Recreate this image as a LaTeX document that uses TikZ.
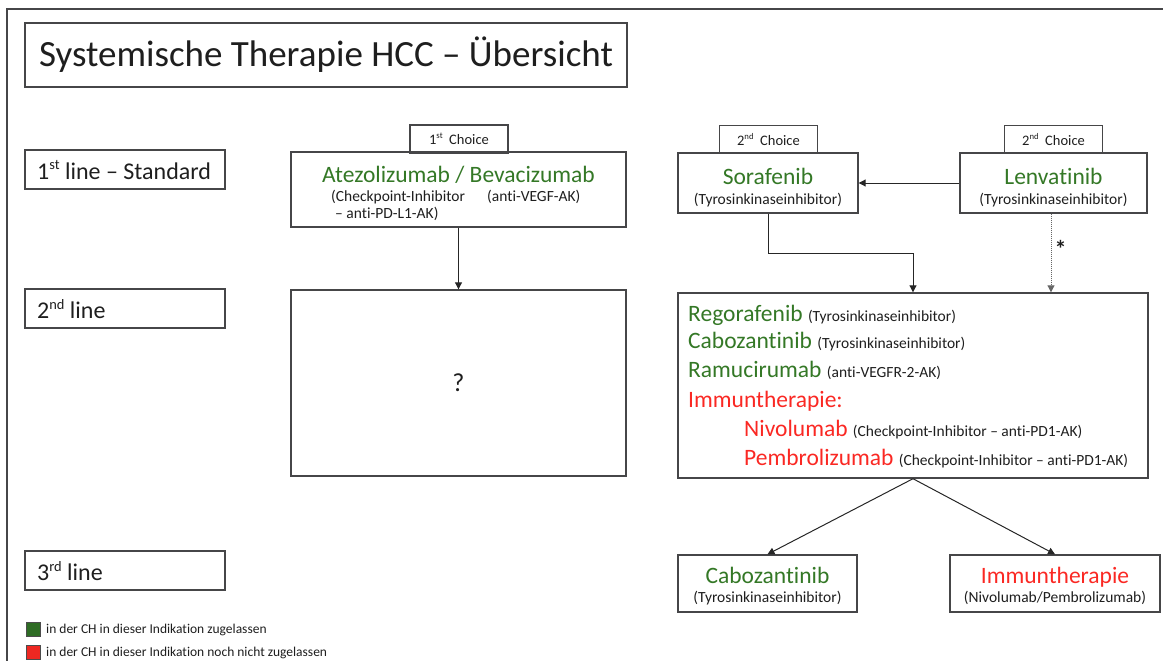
\documentclass[tikz,border=0pt]{standalone}
\usepackage{fontspec}
\setmainfont{Carlito}[Ligatures=NoCommon]
\usetikzlibrary{arrows.meta,calc}
\definecolor{dgreen}{RGB}{52,120,38}
\definecolor{dred}{RGB}{250,40,35}
\definecolor{boxline}{RGB}{70,70,72}
\definecolor{textgray}{RGB}{30,30,30}
\definecolor{lgreen}{RGB}{46,108,36}
\definecolor{lred}{RGB}{238,40,34}
\newcommand{\fsz}[2]{\fontsize{#1}{#2}\selectfont}
\newcommand{\subt}[1]{{\fsz{15.5}{18}\color{textgray}#1}}
\newcommand{\sups}[1]{\raisebox{0.38em}{\scalebox{0.6}{#1}}}
\tikzset{
  box/.style={draw=boxline, line width=1.4pt, inner sep=0pt, text=textgray},
  rowbox/.style={box, minimum width=200, minimum height=39},
  rowtext/.style={inner sep=0pt, anchor=west, font=\fsz{24}{28}, text=textgray},
  choicebox/.style={box, minimum width=98, minimum height=28, font=\fsz{14.5}{16}},
  drug/.style={inner sep=0pt, font=\fsz{23.5}{28}, text=dgreen},
  drugred/.style={inner sep=0pt, font=\fsz{23.5}{28}, text=dred},
  subtxt/.style={inner sep=0pt, font=\fsz{15.5}{18}, text=textgray},
  arr/.style={draw=black!85, line width=1pt, -{Triangle[length=7pt,width=7pt]}},
  frameline/.style={draw=boxline, line width=1.5pt},
  legsq/.style={draw=black!70, line width=0.8pt, minimum width=14, minimum height=14, inner sep=0pt},
  legtext/.style={inner sep=0pt, font=\fsz{13.5}{16}, text=textgray}
}
\begin{document}
\begin{tikzpicture}[x=1pt,y=-1pt]
\useasboundingbox (0,0) rectangle (1163,661);
\draw[frameline] (7,661) -- (7,9) -- (1163,9);

% title
\node[box, minimum width=602, minimum height=64, font=\fsz{37}{44}] (title) at (326,55) {Systemische Therapie HCC – Übersicht};

% row labels
\node[rowbox] (l1) at (125,169.5) {};
\node[rowtext] (l1t) at (37,170) {1\sups{st} line – Standard};
\node[rowbox] (l2) at (125,308.5) {};
\node[rowtext] (l2t) at (37,309) {2\sups{nd} line};
\node[rowbox] (l3) at (125,570.5) {};
\node[rowtext] (l3t) at (37,571) {3\sups{rd} line};

% first line, left
\node[choicebox] (c1) at (459,139) {1\sups{st}\ \ Choice};
\node[box, minimum width=335, minimum height=75] (atezo) at (458.5,189.5) {};
\node[drug, anchor=base] (atezoname) at (458.5,182) {Atezolizumab / Bevacizumab};
\node[subtxt, anchor=base west] (atezoa) at (331,201) {(Checkpoint-Inhibitor};
\node[subtxt, anchor=base west] (atezob) at (487,201) {(anti-VEGF-AK)};
\node[subtxt, anchor=base west] (atezoc) at (335,218) {– anti-PD-L1-AK)};

% second line, left
\node[box, minimum width=335, minimum height=186, font=\fsz{26}{30}] (q) at (458.5,383) {?};

% first line, right
\node[choicebox] (c2a) at (768.5,139.5) {2\sups{nd}\ \ Choice};
\node[box, minimum width=180, minimum height=60] (sora) at (768,183) {};
\node[drug, anchor=base] (soraname) at (768,184) {Sorafenib};
\node[subtxt, anchor=base] (sorasub) at (768,204) {(Tyrosinkinaseinhibitor)};

\node[choicebox] (c2b) at (1053.5,139.5) {2\sups{nd}\ \ Choice};
\node[box, minimum width=187, minimum height=60] (lenv) at (1053.5,183) {};
\node[drug, anchor=base] (lenvname) at (1053.5,184) {Lenvatinib};
\node[subtxt, anchor=base] (lenvsub) at (1053.5,204) {(Tyrosinkinaseinhibitor)};

% second line, right
\node[box, minimum width=470, minimum height=185] (big) at (913,385.5) {};
\node[drug, anchor=base west] (b1) at (688,321) {Regorafenib \subt{(Tyrosinkinaseinhibitor)}};
\node[drug, anchor=base west] (b2) at (688,348) {Cabozantinib \subt{(Tyrosinkinaseinhibitor)}};
\node[drug, anchor=base west] (b3) at (688,377) {Ramucirumab \subt{(anti-VEGFR-2-AK)}};
\node[drugred, anchor=base west] (b4) at (688,407) {Immuntherapie:};
\node[drugred, anchor=base west] (b5) at (744,436) {Nivolumab \subt{(Checkpoint-Inhibitor – anti-PD1-AK)}};
\node[drugred, anchor=base west] (b6) at (744,465) {Pembrolizumab \subt{(Checkpoint-Inhibitor – anti-PD1-AK)}};

% third line
\node[box, minimum width=179, minimum height=57] (cabo) at (767.5,583.5) {};
\node[drug, anchor=base] (caboname) at (767.5,583) {Cabozantinib};
\node[subtxt, anchor=base] (cabosub) at (767.5,602) {(Tyrosinkinaseinhibitor)};
\node[box, minimum width=210, minimum height=57] (immu) at (1055,583.5) {};
\node[drugred, anchor=base] (immuname) at (1055,583) {Immuntherapie};
\node[subtxt, anchor=base] (immusub) at (1055,602) {(Nivolumab/Pembrolizumab)};

% legend
\node[legsq, fill=lgreen] (lg) at (33,629) {};
\node[legtext, anchor=west] (lgt) at (46,630) {in der CH in dieser Indikation zugelassen};
\node[legsq, fill=lred] (lr) at (33,652) {};
\node[legtext, anchor=west] (lrt) at (46,653) {in der CH in dieser Indikation noch nicht zugelassen};

% connectors
\draw[arr] (atezo.south) -- (q.north);
\draw[arr] (lenv.west) -- (sora.east);
\coordinate (sbend) at (913,253);
\draw[arr] (sora.south) |- (sbend) -- (sbend |- big.north);
\draw[arr, draw=black!60, densely dotted] ([xshift=-2.5pt]lenv.south) -- ([xshift=-2.5pt]lenv.south |- big.north)
  node[pos=0.45, right=3pt, inner sep=0pt, font=\bfseries\fsz{24}{26}, text=textgray] (star) {*};
\draw[arr] (big.south) -- (cabo.north);
\draw[arr] (big.south) -- (immu.north);
\end{tikzpicture}
\end{document}
